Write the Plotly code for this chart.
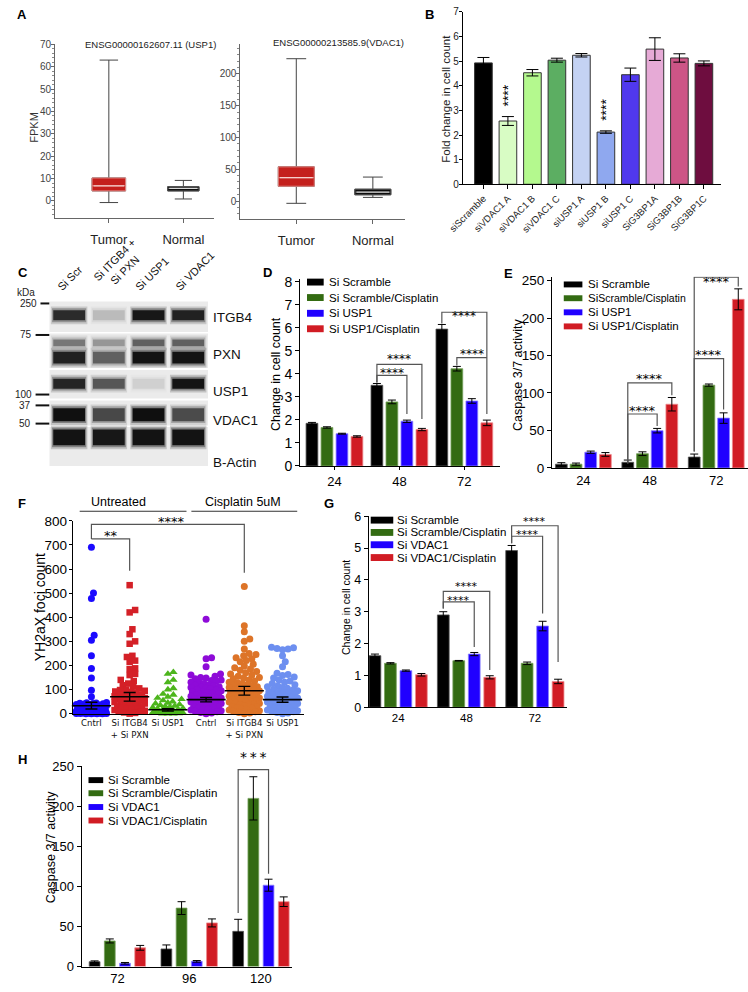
import plotly.graph_objects as go

W, H = 748, 992
FONT = "Liberation Sans, Arial, Helvetica, sans-serif"
STARFONT = "DejaVu Sans, Liberation Sans, sans-serif"
NARROW = "Liberation Sans Narrow, Arial Narrow, DejaVu Sans Condensed, Liberation Sans, sans-serif"

# ======================= DATA =======================
# ---- Panel A (GEPIA box plots) ----
a_categories = ["Tumor", "Normal"]
usp1_title = "ENSG00000162607.11 (USP1)"
usp1_low = [-0.7, 0.9]
usp1_q1 = [4.5, 4.5]
usp1_med = [6.8, 5.6]
usp1_q3 = [10.3, 6.4]
usp1_high = [63.0, 9.2]
vdac1_title = "ENSG00000213585.9(VDAC1)"
vdac1_low = [-3.6, 5.7]
vdac1_q1 = [23.3, 9.8]
vdac1_med = [36.7, 14.0]
vdac1_q3 = [53.8, 18.6]
vdac1_high = [224.0, 37.7]

# ---- Panel B ----
b_categories = ["siScramble", "siVDAC1 A", "siVDAC1 B", "siVDAC1 C", "siUSP1 A",
                "siUSP1 B", "siUSP1 C", "SiG3BP1A", "SiG3BP1B", "SiG3BP1C"]
b_values = [4.93, 2.57, 4.53, 5.04, 5.24, 2.12, 4.45, 5.49, 5.13, 4.91]
b_errors = [0.22, 0.18, 0.13, 0.08, 0.07, 0.05, 0.27, 0.46, 0.17, 0.10]
b_stars = ["", "****", "", "", "", "****", "", "", "", ""]

# ---- Panel C (western blot band intensities, 0 = none, 1 = saturated) ----
blot_lanes = ["Si Scr", "Si ITGB4 +<br>Si PXN", "Si USP1", "Si VDAC1"]
blot_proteins = ["ITGB4", "PXN", "USP1", "VDAC1", "B-Actin"]
itgb4_band = [0.78, 0.15, 0.92, 0.85]
pxn_band = [0.85, 0.50, 0.95, 0.95]
pxn_upper_band = [0.40, 0.28, 0.50, 0.50]
usp1_band = [0.82, 0.55, 0.08, 0.95]
vdac1_band = [0.97, 0.62, 0.98, 0.60]
actin_band = [0.95, 0.92, 0.95, 0.95]
kda_labels = ["250", "75", "100", "37", "50"]

# ---- Panel D ----
d_time = ["24", "48", "72"]
d_labels = ["Si Scramble", "Si Scramble/Cisplatin", "Si USP1", "Si USP1/Cisplatin"]
d_scr = [1.85, 3.50, 5.94]
d_scr_err = [0.04, 0.08, 0.20]
d_scr_cis = [1.67, 2.78, 4.22]
d_scr_cis_err = [0.03, 0.08, 0.10]
d_usp1 = [1.40, 1.94, 2.82]
d_usp1_err = [0.02, 0.05, 0.10]
d_usp1_cis = [1.28, 1.58, 1.87]
d_usp1_cis_err = [0.03, 0.05, 0.12]

# ---- Panel E ----
e_time = ["24", "48", "72"]
e_labels = ["Si Scramble", "Si<span style='font-size:10.5px'>Scramble/Cisplatin</span>",
            "Si USP1", "Si USP1/Cisplatin"]
e_scr = [5.0, 7.5, 14.5]
e_scr_err = [2.0, 3.0, 4.0]
e_scr_cis = [5.0, 19.0, 110.5]
e_scr_cis_err = [1.5, 2.5, 1.5]
e_usp1 = [21.0, 49.7, 66.5]
e_usp1_err = [1.5, 3.0, 7.0]
e_usp1_cis = [18.0, 85.0, 225.0]
e_usp1_cis_err = [2.5, 9.0, 14.0]

# ---- Panel F (YH2aX foci per cell) ----
f_labels = ["Cntrl", "Si ITGB4<br>+ Si PXN", "Si USP1", "Cntrl", "Si ITGB4<br>+ Si PXN", "Si USP1"]
f_cntrl = [690, 500, 478, 325, 305, 240, 187, 148, 97, 70, 46, 45, 44, 43, 42, 41, 40, 38,
           36, 35, 33, 30, 28, 27, 25, 24, 22, 20, 19, 18, 17, 15, 14, 13, 12, 11, 10, 9,
           8, 8, 7, 6, 6, 5, 5, 4, 4, 3, 3, 2, 2, 2, 1, 1, 1, 0, 0, 0, 0]
f_itgb4 = [533, 430, 420, 350, 330, 300, 290, 240, 235, 220, 215, 188, 185, 165, 160, 140,
           135, 125, 118, 112, 105, 100, 98, 95, 92, 90, 86, 82, 80, 78, 75, 72, 70, 68, 65,
           62, 60, 58, 55, 52, 50, 48, 45, 42, 40, 38, 35, 32, 30, 28, 25, 22, 20, 18, 15,
           12, 10, 8, 5, 3, 0]
f_usp1 = [172, 165, 140, 130, 105, 100, 82, 78, 70, 65, 60, 55, 50, 45, 42, 38, 35, 32, 30,
          28, 25, 22, 20, 18, 16, 14, 12, 10, 9, 8, 7, 6, 5, 4, 3, 2, 1, 0, 0, 0]
f_cis_cntrl = [392, 232, 228, 195, 165, 160, 155, 150, 148, 145, 140, 138, 135, 130, 128, 125,
               120, 118, 115, 112, 110, 108, 105, 102, 100, 98, 95, 92, 90, 88, 85, 82, 80,
               78, 75, 72, 70, 68, 65, 62, 60, 58, 55, 52, 50, 48, 45, 42, 40, 38, 35, 32,
               30, 28, 25, 22, 20, 18, 15, 12, 10, 8, 5, 3, 0]
f_cis_itgb4 = [527, 365, 340, 310, 300, 268, 250, 245, 240, 232, 228, 220, 215, 205, 198, 190,
               185, 180, 175, 170, 165, 160, 155, 150, 148, 145, 140, 135, 130, 128, 125, 120,
               118, 115, 112, 110, 108, 105, 102, 100, 98, 95, 92, 90, 88, 85, 82, 80, 78,
               75, 72, 70, 68, 65, 62, 60, 58, 55, 52, 50, 48, 45, 42, 40, 38, 35, 32, 30,
               28, 25, 22, 20, 18, 15, 12, 10, 8, 5, 3, 0]
f_cis_usp1 = [275, 273, 270, 268, 265, 240, 215, 195, 168, 162, 158, 152, 148, 140, 135, 130,
              125, 120, 115, 112, 108, 105, 100, 98, 95, 92, 90, 88, 85, 82, 80, 78, 75, 72,
              70, 68, 65, 62, 60, 58, 55, 52, 50, 48, 45, 42, 40, 38, 35, 32, 30, 28, 25, 22,
              20, 18, 15, 12, 10, 8, 5, 3, 0]
f_mean = [33, 70, 16, 58, 95, 58]
f_sem = [14, 18, 5, 9, 18, 11]

# ---- Panel G ----
g_time = ["24", "48", "72"]
g_labels = ["Si Scramble", "Si Scramble/Cisplatin", "Si VDAC1", "Si VDAC1/Cisplatin"]
g_scr = [1.62, 2.90, 4.92]
g_scr_err = [0.05, 0.10, 0.16]
g_scr_cis = [1.38, 1.46, 1.38]
g_scr_cis_err = [0.02, 0.01, 0.04]
g_vdac1 = [1.15, 1.67, 2.55]
g_vdac1_err = [0.02, 0.05, 0.15]
g_vdac1_cis = [1.02, 0.94, 0.81]
g_vdac1_cis_err = [0.04, 0.05, 0.07]

# ---- Panel H ----
h_time = ["72", "96", "120"]
h_labels = ["Si Scramble", "Si Scramble/Cisplatin", "Si VDAC1", "Si VDAC1/Cisplatin"]
h_scr = [6.1, 22.0, 44.0]
h_scr_err = [1.0, 5.0, 15.0]
h_scr_cis = [32.0, 73.0, 210.0]
h_scr_cis_err = [2.5, 8.0, 27.0]
h_vdac1 = [4.1, 6.5, 101.6]
h_vdac1_err = [1.0, 1.0, 7.5]
h_vdac1_cis = [23.4, 54.5, 81.0]
h_vdac1_cis_err = [3.0, 5.0, 6.0]

# ======================= STYLE =======================
SER_COLORS = ["#000000", "#336b12", "#2000ff", "#d11c24"]
SER_EDGES = ["#555555", "#76a05c", "#8a80ff", "#ee8a8e"]
B_COLORS = ["#000000", "#d8fcc4", "#b4f98e", "#5cae62", "#c4d2f3",
            "#8fa8ef", "#5038ee", "#e6aad6", "#cd5586", "#6e0d3f"]
F_COLORS = ["#1b0aff", "#d42027", "#4cb51c", "#8e0bd8", "#dd7428", "#6d8ff0"]
F_SYMBOLS = ["circle", "square", "triangle-up", "circle", "circle", "circle"]
F_SIZES = [7, 6.5, 7.5, 7, 7, 7]
STAR_SIZE = 12


def px(x):
    return x / W


def py(y):
    return 1 - y / H


def xd(x0, x1):
    return [x0 / W, x1 / W]


def yd(top, bottom):
    return [1 - bottom / H, 1 - top / H]


traces = []
shapes = []
ann = []
layout = {}


def axis(dom, rng, **kw):
    d = dict(domain=dom, range=rng, showline=True, linecolor="black", linewidth=1,
             ticks="outside", ticklen=4, tickwidth=1, tickcolor="black",
             showgrid=False, zeroline=False, fixedrange=True,
             tickfont=dict(family=FONT, size=13, color="black"))
    d.update(kw)
    return d


def to_paper_y(ax, v):
    ya = layout["yaxis" + ax]
    d0, d1 = ya["domain"]
    r0, r1 = ya["range"]
    return d0 + (v - r0) / (r1 - r0) * (d1 - d0)


def text(x, y, s, size=12, xanchor="center", yanchor="middle", angle=0, color="black",
         family=FONT):
    ann.append(dict(x=px(x), y=py(y), xref="paper", yref="paper", text=s, showarrow=False,
                    xanchor=xanchor, yanchor=yanchor, textangle=angle,
                    font=dict(size=size, color=color, family=family)))


def pline(x0, y0, x1, y1, color="black", width=1):
    shapes.append(dict(type="line", xref="paper", yref="paper", x0=px(x0), x1=px(x1),
                       y0=py(y0), y1=py(y1), line=dict(color=color, width=width)))


def stars(ax, x, v, label, lift_px, size=STAR_SIZE):
    # star glyph centre placed lift_px above the data value v
    ann.append(dict(x=x, y=to_paper_y(ax, v) + lift_px / H, xref="x" + ax, yref="paper",
                    text=label, showarrow=False, yshift=-3, borderpad=0,
                    font=dict(size=size, family=STARFONT, color="black")))


def bracket(ax, xl, xr, yline, yl, yr, label, lift_px=7, size=STAR_SIZE):
    shapes.append(dict(type="path", xref="x" + ax, yref="y" + ax,
                       path=f"M {xl},{yl} L {xl},{yline} L {xr},{yline} L {xr},{yr}",
                       line=dict(color="#555555", width=1.2)))
    stars(ax, (xl + xr) / 2, yline, label, lift_px, size)


def legend(sw0, sw1, xt, ys, labels, size, sh):
    for yc, lab, col in zip(ys, labels, SER_COLORS):
        shapes.append(dict(type="rect", xref="paper", yref="paper", x0=px(sw0), x1=px(sw1),
                           y0=py(yc + sh / 2), y1=py(yc - sh / 2), fillcolor=col,
                           line=dict(width=0)))
        text(xt, yc, lab, size=size, xanchor="left")


def grouped(ax, series, errs, slot, width):
    for k, (vals, er) in enumerate(zip(series, errs)):
        traces.append(go.Bar(
            x=list(range(len(vals))), y=vals, width=width,
            offset=(k - 1.5) * slot - width / 2,
            marker=dict(color=SER_COLORS[k], line=dict(color=SER_EDGES[k], width=0.8)),
            error_y=dict(type="data", array=er, color="black", thickness=1, width=4),
            xaxis="x" + ax, yaxis="y" + ax, showlegend=False, hoverinfo="skip"))


# ======================= PANEL A =======================
a_axis_col = "#666666"
for ax, title, low, q1, med, q3, high, xr, dom_x, yr, dom_y, dt, mdt, widths, tcx, tcy in [
    ("", usp1_title, usp1_low, usp1_q1, usp1_med, usp1_q3, usp1_high,
     [-0.72, 1.41], xd(41, 203), [-7.5, 70], yd(38, 214), 10, 2, [0.45, 0.42], 138, 38),
    ("2", vdac1_title, vdac1_low, vdac1_q1, vdac1_med, vdac1_q3, vdac1_high,
     [-0.73, 1.42], xd(230, 398), [-27.9, 246.5], yd(38, 215), 50, 10, [0.47, 0.47], 330, 36),
]:
    for i in range(2):
        fill = "#c4201d" if i == 0 else "#0d0d0d"
        edge = "#e08a86" if i == 0 else "#555555"
        mcol = "#f6cfcc" if i == 0 else "#d8d8d8"
        common = dict(x=[i], width=widths[i], boxpoints=False, xaxis="x" + ax, yaxis="y" + ax,
                      showlegend=False, hoverinfo="skip")
        traces.append(go.Box(q1=[q1[i]], median=[med[i]], q3=[q3[i]], lowerfence=[low[i]],
                             upperfence=[high[i]], fillcolor=fill,
                             line=dict(color="#444444", width=1), whiskerwidth=0.55, **common))
        traces.append(go.Box(q1=[q1[i]], median=[med[i]], q3=[q3[i]], lowerfence=[q1[i]],
                             upperfence=[q3[i]], fillcolor=fill,
                             line=dict(color=edge, width=1), whiskerwidth=0, **common))
        traces.append(go.Scatter(x=[i - widths[i] / 2 + 0.02, i + widths[i] / 2 - 0.02],
                                 y=[med[i], med[i]], mode="lines",
                                 line=dict(color=mcol, width=1.3),
                                 xaxis="x" + ax, yaxis="y" + ax, showlegend=False,
                                 hoverinfo="skip"))
    layout["xaxis" + ax] = axis(dom_x, xr, anchor="y" + ax, tickvals=[0, 1],
                                ticktext=a_categories, linecolor=a_axis_col,
                                tickcolor=a_axis_col, ticklabelstandoff=6,
                                tickfont=dict(family=FONT, size=13, color="#222222"))
    layout["yaxis" + ax] = axis(dom_y, yr, anchor="x" + ax, dtick=dt, tick0=0, ticklen=3,
                                ticklabelstandoff=-2,
                                linecolor=a_axis_col, tickcolor=a_axis_col,
                                tickfont=dict(family=FONT, size=10, color="#444444"),
                                minor=dict(ticks="outside", ticklen=2, dtick=mdt,
                                           tickcolor="#888888"))
    text(tcx, tcy, title, size=9.5, color="#222222")
text(20, 122, "FPKM", size=11, angle=-90, color="#333333")

# ======================= PANEL B =======================
traces.append(go.Bar(x=list(range(len(b_values))), y=b_values, width=0.72,
                     marker=dict(color=B_COLORS, line=dict(color="#333333", width=1)),
                     error_y=dict(type="data", array=b_errors, color="black", thickness=1,
                                  width=6),
                     xaxis="x3", yaxis="y3", showlegend=False, hoverinfo="skip"))
layout["xaxis3"] = axis(xd(457, 720), [-0.84, 9.68], anchor="y3",
                        tickvals=list(range(len(b_categories))), ticktext=b_categories,
                        tickangle=-45, tickfont=dict(family=FONT, size=9.5, color="#222222"))
layout["yaxis3"] = axis(yd(5, 180), [0, 7], anchor="x3", dtick=1, ticklen=3,
                        ticklabelstandoff=-2,
                        tickfont=dict(family=FONT, size=10, color="#222222"))
for i, s in enumerate(b_stars):
    if s:
        ann.append(dict(x=i, y=b_values[i] + b_errors[i] + 0.85, xref="x3", yref="y3", text=s,
                        showarrow=False, textangle=-90, font=dict(size=14, family=FONT)))
text(439, 93, "Fold change in cell count", size=11.5, angle=-90, color="#222222")

# ======================= PANEL C (blot) =======================
row_top = [299, 331.5, 368.5, 399.5, 426.5]
row_bot = [330, 366.5, 397.5, 425, 466]
band_c = [313, 356, 382.5, 414, 437]
band_h = [10, 12, 10, 13, 16]
bands = [itgb4_band, pxn_band, usp1_band, vdac1_band, actin_band]
for r in range(5):
    traces.append(go.Bar(x=[1.5], y=[row_bot[r] - row_top[r]], base=[row_top[r]], width=4,
                         marker=dict(color="#ebebeb", line=dict(width=0)),
                         xaxis="x4", yaxis="y4", showlegend=False, hoverinfo="skip"))
band_layers = [(r, band_c[r], band_h[r], bands[r]) for r in range(5)]
band_layers.append((1, 341, 7, pxn_upper_band))
for r, c, h, inten in band_layers:
    for extra, wid, fac in [(8, 0.92, 0.18), (4, 0.86, 0.35), (0, 0.8, 0.9)]:
        traces.append(go.Bar(x=[0, 1, 2, 3], y=[h + extra] * 4, base=[c - (h + extra) / 2] * 4,
                             width=wid,
                             marker=dict(color=[f"rgba(0,0,0,{fac * v:.3f})" for v in inten],
                                         line=dict(width=0)),
                             xaxis="x4", yaxis="y4", showlegend=False, hoverinfo="skip"))
layout["xaxis4"] = dict(domain=xd(35, 197), range=[-0.5, 3.5], visible=False, fixedrange=True,
                        anchor="y4")
layout["yaxis4"] = dict(domain=yd(298, 466), range=[466, 298], visible=False, fixedrange=True,
                        anchor="x4")
for name, y in zip(blot_proteins, [315, 353, 390, 420, 463]):
    text(200, y, name, size=13.5, xanchor="left", color="#111111")
text(0, 290, "kDa", size=10, xanchor="left", color="#222222")
for lab, y, xe, x0 in zip(kda_labels, [301, 333, 393.5, 404.5, 423],
                          [24, 19, 19, 18, 18], [26, 21, 21, 21, 21]):
    text(xe, y, lab, size=10, xanchor="right", color="#222222")
    pline(x0, y, 35, y, color="#111111", width=2)
for lab, (x, y) in zip(blot_lanes, [(38, 293), (75, 294), (117, 293), (158, 293)]):
    text(x, y, lab, size=11, xanchor="left", yanchor="bottom", angle=-45, color="#111111")

# ======================= PANEL D =======================
D_SLOT, D_W = 0.231, 0.181
grouped("5", [d_scr, d_scr_cis, d_usp1, d_usp1_cis],
        [d_scr_err, d_scr_cis_err, d_usp1_err, d_usp1_cis_err], D_SLOT, D_W)
layout["xaxis5"] = axis(xd(291, 495), [-0.528, 2.55], anchor="y5", tickvals=[0, 1, 2],
                        ticktext=d_time, ticklen=3)
layout["yaxis5"] = axis(yd(276.5, 466), [0, 8.1], anchor="x5", dtick=1,
                        tickfont=dict(family=FONT, size=14, color="black"))


def dpos(g, k):
    return g + (k - 1.5) * D_SLOT


bracket("5", dpos(1, 0), dpos(1, 3), 4.41, 3.62, 2.04, "****", 8)
bracket("5", dpos(1, 0), dpos(1, 2), 3.93, 3.62, 2.25, "****", 5)
bracket("5", dpos(2, 0), dpos(2, 3), 6.67, 6.18, 2.26, "****", 7)
bracket("5", dpos(2, 1), dpos(2, 3), 4.70, 4.36, 4.70, "****", 7)
legend(298, 315, 318.5, [279.3, 295, 311, 326.7], d_labels, 11.5, 7)
text(267, 373, "Change in cell count", size=12.5, angle=-90)

# ======================= PANEL E =======================
E_SLOT, E_W = 0.221, 0.177
grouped("6", [e_scr, e_scr_cis, e_usp1, e_usp1_cis],
        [e_scr_err, e_scr_cis_err, e_usp1_err, e_usp1_cis_err], E_SLOT, E_W)
layout["xaxis6"] = axis(xd(548, 748), [-0.472, 2.478], anchor="y6", tickvals=[0, 1, 2],
                        ticktext=e_time, ticks="")
layout["yaxis6"] = axis(yd(274, 468), [0, 255], anchor="x6", tickvals=[0, 50, 100, 150, 200, 250],
                        tickfont=dict(family=FONT, size=13.5, color="black"))


def epos(g, k):
    return g + (k - 1.5) * E_SLOT


bracket("6", epos(1, 0), epos(1, 3), 113.6, 6, 97, "****", 7, 13)
bracket("6", epos(1, 0), epos(1, 2), 72, 6, 56, "****", 7, 13)
bracket("6", epos(2, 0), epos(2, 3), 254.6, 22, 242, "****", 7, 13)
bracket("6", epos(2, 0), epos(2, 2), 146, 22, 78, "****", 7, 13)
legend(560, 579, 582.7, [281.7, 295.7, 310, 324.3], e_labels, 11.5, 6)
text(514, 373, "Caspase 3/7 activity", size=12.5, angle=-90)

# ======================= PANEL F =======================
F_XS = 39.0      # px per group
F_YS = 0.2447    # px per foci unit


def swarm_offsets(vals, yscale, mind=5.6, maxoff=15.5, step=0.7):
    idx = sorted(range(len(vals)), key=lambda i: vals[i])
    placed = []
    offs = [0.0] * len(vals)
    cands = [0.0]
    k = 1
    while k * step <= maxoff:
        cands += [k * step, -k * step]
        k += 1
    for i in idx:
        y = vals[i] * yscale
        near = [(ox, oy) for ox, oy in placed if abs(oy - y) < mind]
        best = None
        best_c, best_d = 0.0, -1.0
        for c in cands:
            dmin = min((((c - ox) ** 2 + (y - oy) ** 2) ** 0.5 for ox, oy in near), default=1e9)
            if dmin >= mind:
                best = c
                break
            if dmin > best_d:
                best_d, best_c = dmin, c
        if best is None:
            best = best_c
        offs[i] = best
        placed.append((best, y))
    return offs


f_groups = [f_cntrl, f_itgb4, f_usp1, f_cis_cntrl, f_cis_itgb4, f_cis_usp1]
for g, vals in enumerate(f_groups):
    offs = swarm_offsets(vals, F_YS)
    traces.append(go.Scatter(x=[g + o / F_XS for o in offs], y=vals, mode="markers",
                             marker=dict(symbol=F_SYMBOLS[g], size=F_SIZES[g], color=F_COLORS[g],
                                         line=dict(width=0)),
                             cliponaxis=False, xaxis="x7", yaxis="y7", showlegend=False,
                             hoverinfo="skip"))
traces.append(go.Scatter(x=list(range(6)), y=f_mean, mode="markers",
                         marker=dict(symbol="line-ew", size=28, color="black",
                                     line=dict(color="black", width=1.6)),
                         error_y=dict(type="data", array=f_sem, color="black", thickness=1.4,
                                      width=6),
                         cliponaxis=False, xaxis="x7", yaxis="y7", showlegend=False,
                         hoverinfo="skip"))
layout["xaxis7"] = axis(xd(59, 295), [-0.487, 5.564], anchor="y7", tickvals=list(range(6)),
                        ticktext=f_labels, ticks="",
                        tickfont=dict(family=NARROW, size=9.5, color="#111111"))
layout["yaxis7"] = axis(yd(521.7, 717.5), [0, 800], anchor="x7", dtick=100, ticklen=3,
                        ticklabelstandoff=-1,
                        tickfont=dict(family=FONT, size=13.5, color="black"))
shapes.append(dict(type="path", xref="x7", yref="y7", path="M 0,725 L 0,785 L 4,785 L 4,585",
                   line=dict(color="#555555", width=1.2)))
shapes.append(dict(type="path", xref="x7", yref="y7", path="M 0,725 L 1,725 L 1,593",
                   line=dict(color="#555555", width=1.2)))
stars("7", 0.5, 725, "**", 6, 13)
stars("7", 2.1, 785, "****", 6, 13)
text(106, 503, "Untreated", size=12.5)
pline(66, 512, 175, 512, color="#333333", width=1)
text(233, 503, "Cisplatin 5uM", size=12.5)
pline(180, 512, 288, 512, color="#333333", width=1)
text(25, 609, "YH2aX foci count", size=14, angle=-90)

# ======================= PANEL G =======================
G_SLOT, G_W = 0.2265, 0.172
grouped("8", [g_scr, g_scr_cis, g_vdac1, g_vdac1_cis],
        [g_scr_err, g_scr_cis_err, g_vdac1_err, g_vdac1_cis_err], G_SLOT, G_W)
layout["xaxis8"] = axis(xd(361, 563), [-0.43, 2.466], anchor="y8", tickvals=[0, 1, 2],
                        ticktext=g_time, ticks="",
                        tickfont=dict(family=FONT, size=11.5, color="black"))
layout["yaxis8"] = axis(yd(517, 711), [0, 6], anchor="x8", dtick=1,
                        tickfont=dict(family=FONT, size=12.5, color="black"))


def gpos(g, k):
    return g + (k - 1.5) * G_SLOT


bracket("8", gpos(1, 0), gpos(1, 3), 3.64, 3.10, 1.17, "****", 7.5, 11)
bracket("8", gpos(1, 0), gpos(1, 2), 3.31, 3.10, 1.89, "****", 4.5, 11)
bracket("8", gpos(2, 0), gpos(2, 3), 5.70, 5.15, 1.42, "****", 7.5, 11)
bracket("8", gpos(2, 0), gpos(2, 2), 5.37, 5.15, 2.94, "****", 4.5, 11)
legend(363, 386, 388, [521, 533.5, 546, 559], g_labels, 11.5, 7)
text(338, 610, "Change in cell count", size=10.5, angle=-90)

# ======================= PANEL H =======================
H_SLOT, H_W = 0.2116, 0.150
grouped("9", [h_scr, h_scr_cis, h_vdac1, h_vdac1_cis],
        [h_scr_err, h_scr_cis_err, h_vdac1_err, h_vdac1_cis_err], H_SLOT, H_W)
layout["xaxis9"] = axis(xd(68, 283), [-0.498, 2.437], anchor="y9", tickvals=[0, 1, 2],
                        ticktext=h_time, ticks="",
                        tickfont=dict(family=FONT, size=13, color="black"))
layout["yaxis9"] = axis(yd(771, 974.3), [0, 250], anchor="x9", dtick=50,
                        tickfont=dict(family=FONT, size=13, color="black"))


def hpos(g, k):
    return g + (k - 1.5) * H_SLOT


bracket("9", hpos(2, 0), hpos(2, 2), 246, 66.8, 116, "*\u2009*\u2009*", 7, 14)
legend(75, 90, 93.3, [785, 798.3, 812.3, 826], h_labels, 11.5, 6)
text(37, 853, "Caspase 3/7 activity", size=12.5, angle=-90)

# ======================= PANEL LETTERS =======================
for letter, (x, y) in zip("ABCDEFGH", [(7, 8), (423, 8), (8, 270), (258, 270), (504, 271),
                                      (7, 504), (320, 504), (8, 764)]):
    text(x, y, f"<b>{letter}</b>", size=13)

layout.update(dict(
    width=W, height=H, autosize=False,
    margin=dict(l=0, r=0, t=0, b=0, pad=0),
    paper_bgcolor="white", plot_bgcolor="rgba(0,0,0,0)",
    font=dict(family=FONT, color="black"),
    barmode="overlay", boxmode="overlay",
    shapes=shapes, annotations=ann, showlegend=False,
))

fig = go.Figure(data=traces, layout=layout)
fig.write_html("out.html", config={"displayModeBar": False},
               post_script="document.body.style.margin='0px';"
                           "document.body.style.overflow='hidden';")
